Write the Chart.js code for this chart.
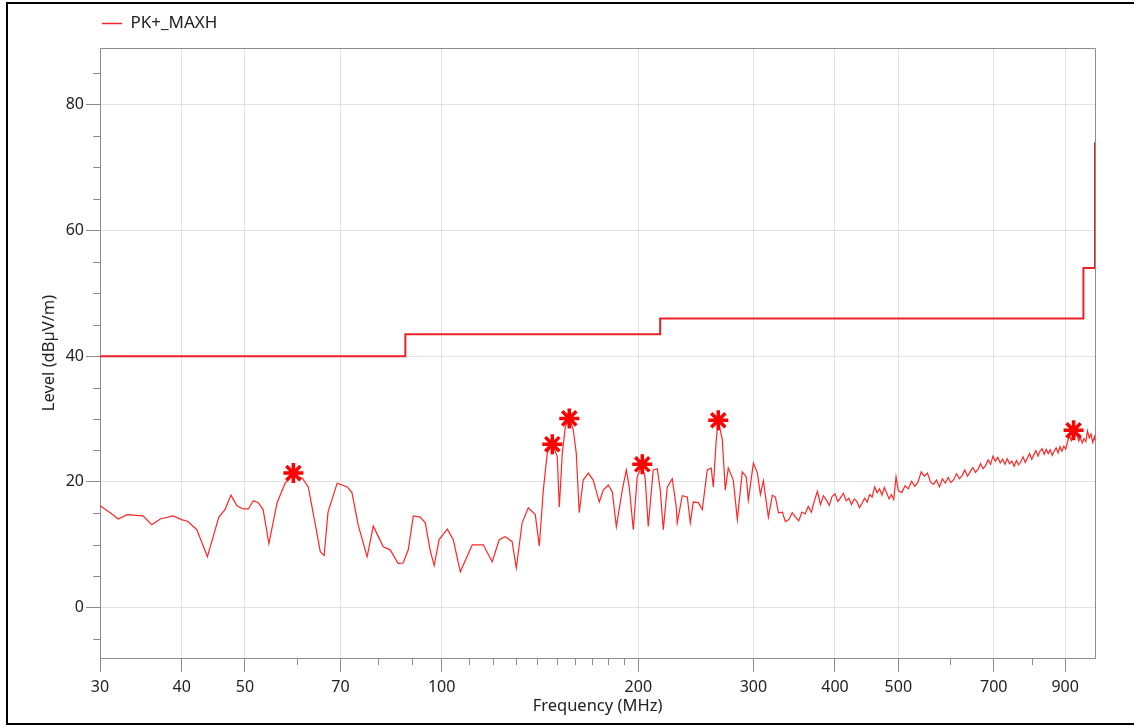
<!DOCTYPE html>
<html><head><meta charset="utf-8">
<script src="https://cdn.jsdelivr.net/npm/chart.js@4"></script>
<style>
html,body{margin:0;padding:0;background:#fff;overflow:hidden}
#wrap{position:absolute;left:0;top:0;width:1134px;height:725px}
#frame{position:absolute;left:6px;top:2px;width:1140px;height:723px;box-sizing:border-box;border:2px solid #000;pointer-events:none}
</style></head><body>
<div id="wrap"><canvas id="c"></canvas></div>
<div id="frame"></div>
<script>
// ---- data (MHz, dBµV/m) ----
const freqLow = [30.0,31.1,32.0,33.0,34.9,36.0,37.1,38.8,40.0,40.9,42.2,43.8,45.6,46.6,47.6,48.6,49.7,50.6,51.5,52.4,53.3,54.4,56.0,57.6,59.3,61.2,62.5,64.0,65.2,66.1,67.0,69.2,71.7,72.9,74.5,76.9,78.6,80.0,81.4,83.4,84.3,85.8,87.3,88.9,90.5,92.7,94.4,96.0,97.4,99.1,102.0,104.2,106.8,111.4,115.8,119.5,122.5,125.1,128.2,130.1,132.8,135.7,139.1,141.1,143.1,145.1,147.7,150.3,151.4,153.0,154.6,156.8,159.0,160.7,162.4,164.7,167.7,170.6,174.3,176.8,179.9,182.5,185.1,189.0,191.7,193.7,196.5,199.2,202.8,204.9,207.1,210.8,213.8,216.1,218.4,221.5,225.4,228.6,229.4,233.5,237.7,240.2,242.7,247.1,250.6,255.0,258.6,260.5,263.2,265.1,268.9,271.7,274.6,279.5,283.5,288.5,292.6,294.7,300.0,304.3,307.5,310.8,316.3,320.8,324.2,327.7,332.3,335.8];
const levelLow = [16.2,15.1,14.1,14.8,14.6,13.2,14.1,14.6,14.0,13.7,12.4,8.1,14.4,15.6,17.9,16.2,15.7,15.7,17.0,16.7,15.6,10.2,16.7,19.8,21.1,20.6,19.2,13.5,8.9,8.3,15.2,19.8,19.2,18.3,13.2,8.1,13.0,11.3,9.7,9.2,8.4,7.0,7.1,9.2,14.6,14.4,13.5,9.2,6.7,10.8,12.5,10.8,5.7,10.0,10.0,7.3,10.8,11.3,10.5,6.3,13.5,15.9,14.8,9.8,18.7,24.6,26.2,24.0,16.0,24.6,28.7,30.2,28.3,24.6,15.1,20.3,21.4,20.3,16.8,18.7,19.5,18.4,12.9,18.7,21.9,19.2,12.4,20.8,22.7,20.6,12.9,21.9,22.1,18.7,12.4,19.2,20.5,16.0,13.5,17.8,17.6,13.5,16.8,16.7,15.6,21.9,22.2,19.2,26.7,29.8,26.7,18.7,22.2,20.3,14.0,21.6,20.8,17.1,23.0,21.4,18.0,20.2,14.4,17.9,17.6,15.1,15.2,13.7];
const freqMid = [340,344,348,352,356,360,364,368,372,376,380,384,388,392,396,400,404,408,412,416,420,424,428,432,436,440,444,448,452,456,460,464,468,472,476,480,484,488,492,496,500];
const levelMid = [14.0,15.1,14.4,13.8,15.2,14.9,16.1,15.2,17.0,18.5,16.4,17.8,17.1,16.3,17.7,18.1,16.9,17.5,18.2,17.0,17.4,16.4,17.3,16.9,15.9,16.6,17.4,16.8,18.0,17.6,19.2,18.3,18.9,17.9,19.1,18.2,17.3,18.0,17.2,20.8,18.6];
const freqHigh = [506,512,518,524,530,536,542,548,554,560,566,572,578,584,590,596,602,608,614,620,626,632,638,644,650,656,662,668,674,680,686,692,698,704,710,716,722,728,734,740,746,752,758,764,770,776,782,788,794,800,806,812,818,824,830,836,842,848,854,860,866,872,878,884,890,896,902,908,914,920,926,932,938,944,950,956,962,968,974,980,986,992,998,1000];
const levelHigh = [18.3,19.4,18.9,20.1,19.3,20.0,21.6,20.9,21.4,20.0,19.6,20.3,19.2,20.5,19.8,20.7,19.9,20.4,21.3,20.5,21.0,21.9,20.9,21.6,22.3,21.5,22.0,22.9,22.1,22.6,23.5,22.8,24.1,23.3,23.9,23.0,23.6,22.8,23.7,22.9,23.3,22.5,23.4,22.7,23.2,24.0,23.1,23.8,24.5,23.6,24.3,25.0,24.1,24.9,25.3,24.4,25.2,24.5,25.1,24.2,24.9,25.4,24.6,25.6,24.9,25.7,25.2,26.4,27.3,26.6,28.0,27.2,27.7,26.5,27.1,26.2,26.9,26.4,28.1,27.0,27.6,26.3,27.2,26.6];

const limitFreq  = [30,88,88,216,216,960,960,1000,1000];
const limitLevel = [40,40,43.5,43.5,46,46,54,54,74];

const markerFreq  = [59.3,147.7,156.8,202.8,265.1,927.2];
const markerLevel = [21.4,26.0,30.1,22.8,29.8,28.2];

const xMajor = [30,40,50,70,100,200,300,400,500,700,900];
const xMinor = [60,80,90,110,120,130,140,150,160,170,180,190,600,800];
const yMajor = [0,20,40,60,80];
const yMinor = [-5,5,10,15,25,30,35,45,50,55,65,70,75,85];

// ---- build ----
const freqAll = freqLow.concat(freqMid, freqHigh);
const levelAll = levelLow.concat(levelMid, levelHigh);
const trace = freqAll.map((f,i)=>({x:f, y:levelAll[i]}));
const limit = limitFreq.map((f,i)=>({x:f, y:limitLevel[i]}));
const marks = markerFreq.map((f,i)=>({x:f, y:markerLevel[i]}));

const AXIS = '#8c8c8c', GRID = '#e2e2e2', TXT = '#222222', TRACE = '#ff2626';
Chart.defaults.font.family = "'Noto Sans', 'DejaVu Sans', sans-serif";
Chart.defaults.font.size = 16;
Chart.defaults.color = TXT;

const extras = {
  id: 'extras',
  afterDraw(chart) {
    const {ctx, chartArea: a, scales: {x, y}} = chart;
    ctx.save();
    ctx.strokeStyle = AXIS; ctx.lineWidth = 1;
    ctx.beginPath();
    xMinor.forEach(v => { const px = Math.round(x.getPixelForValue(v)) + 0.5; ctx.moveTo(px, a.bottom); ctx.lineTo(px, a.bottom + 7); });
    yMinor.forEach(v => { const py = Math.round(y.getPixelForValue(v)) + 0.5; ctx.moveTo(a.left, py); ctx.lineTo(a.left - 7, py); });
    ctx.stroke();
    ctx.beginPath();
    ctx.moveTo(Math.round(a.left) + 0.5, Math.round(a.top) + 0.5);
    ctx.lineTo(Math.round(a.right) + 0.5, Math.round(a.top) + 0.5);
    ctx.lineTo(Math.round(a.right) + 0.5, Math.round(a.bottom) + 0.5);
    ctx.stroke();
    ctx.restore();
  }
};

new Chart(document.getElementById('c'), {
  type: 'line',
  data: { datasets: [
    {label: 'PK+_MAXH', data: trace, borderColor: TRACE, borderWidth: 1.2, pointRadius: 0, tension: 0, order: 2},
    {label: 'Limit', data: limit, borderColor: '#ea2228', borderWidth: 2, pointRadius: 0, tension: 0, order: 1},
    {label: 'Markers', data: marks, showLine: false, pointStyle: 'star', pointRadius: 10, borderColor: '#ff0000', backgroundColor: '#ff0000', borderWidth: 3.5, order: 0}
  ]},
  options: {
    responsive: true, maintainAspectRatio: false, animation: false,
    layout: {padding: {left: 36, right: 39, top: 13, bottom: 8}},
    plugins: {
      legend: {position: 'top', align: 'start', fullSize: false,
        labels: {usePointStyle: true, pointStyle: 'line', pointStyleWidth: 20, padding: 2, color: TXT,
          font: {size: 17},
          generateLabels: chart => Chart.defaults.plugins.legend.labels.generateLabels(chart)
            .map(l => Object.assign(l, {strokeStyle: TRACE, fillStyle: TRACE, lineWidth: 1.5})),
          filter: item => item.datasetIndex === 0}},
      tooltip: {enabled: false}
    },
    scales: {
      x: {type: 'logarithmic', min: 30, max: 1000,
        afterBuildTicks: s => { s.ticks = xMajor.map(v => ({value: v})); },
        ticks: {autoSkip: false, maxRotation: 0, padding: 6, color: TXT, callback: v => String(v)},
        grid: {color: GRID, tickColor: AXIS, tickLength: 14},
        border: {color: AXIS},
        title: {display: true, text: 'Frequency (MHz)', color: TXT, font: {size: 16.5}, padding: {top: 0, bottom: 1}},
        afterFit: s => { s.height = 59; }
      },
      spacer: {type: 'linear', position: 'top', display: true,
        grid: {display: false, drawTicks: false}, ticks: {display: false}, border: {display: false},
        afterFit: s => { s.height = 6; }
      },
      y: {min: -8, max: 89,
        afterBuildTicks: s => { s.ticks = yMajor.map(v => ({value: v})); },
        ticks: {padding: 2, color: TXT},
        grid: {color: GRID, tickColor: AXIS, tickLength: 14},
        border: {color: AXIS},
        title: {display: true, text: 'Level (dBµV/m)', color: TXT, font: {size: 16.5}, padding: {top: 3, bottom: 0}},
        afterFit: s => { s.width = 64; }
      }
    }
  },
  plugins: [extras]
});
</script></body></html>
